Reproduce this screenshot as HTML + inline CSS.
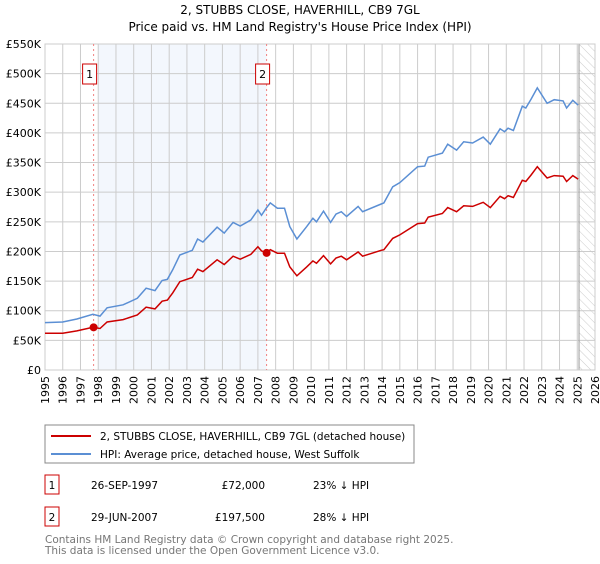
<!DOCTYPE html>
<html><head><meta charset="utf-8"><style>
body{margin:0;background:#fff;font-family:"DejaVu Sans","Liberation Sans",sans-serif;}
svg text{font-family:"DejaVu Sans","Liberation Sans",sans-serif;}
</style></head><body>
<svg id="chart" width="600" height="560" viewBox="0 0 600 560">
<defs><pattern id="hatch" width="6" height="6" patternUnits="userSpaceOnUse" patternTransform="rotate(-45)"><line x1="0" y1="0" x2="0" y2="6" stroke="#ccc" stroke-width="1"/></pattern></defs>
<text x="300" y="14" text-anchor="middle" font-size="12" fill="#000">2, STUBBS CLOSE, HAVERHILL, CB9 7GL</text>
<text x="300" y="31" text-anchor="middle" font-size="12" fill="#000">Price paid vs. HM Land Registry's House Price Index (HPI)</text>
<g id="grid"></g>
<g id="marks"></g>
<g id="xlabels"></g>
<g id="ylabels"></g>
<g>
<rect x="45" y="425" width="369" height="38" fill="#fff" stroke="#888"/>
<line x1="51" y1="436" x2="91" y2="436" stroke="#cc0000" stroke-width="2"/>
<text x="100" y="440" font-size="10.5">2, STUBBS CLOSE, HAVERHILL, CB9 7GL (detached house)</text>
<line x1="51" y1="454" x2="91" y2="454" stroke="#5b8fd4" stroke-width="2"/>
<text x="100" y="458" font-size="10.5">HPI: Average price, detached house, West Suffolk</text>
</g>
<g font-size="10.5">
<rect x="45" y="475" width="14" height="19" fill="#fff" stroke="#cc0000"/>
<text x="52" y="489" text-anchor="middle">1</text>
<text x="91" y="489">26-SEP-1997</text>
<text x="265" y="489" text-anchor="end">£72,000</text>
<text x="313" y="489">23% ↓ HPI</text>
<rect x="45" y="507" width="14" height="19" fill="#fff" stroke="#cc0000"/>
<text x="52" y="521" text-anchor="middle">2</text>
<text x="91" y="521">29-JUN-2007</text>
<text x="265" y="521" text-anchor="end">£197,500</text>
<text x="313" y="521">28% ↓ HPI</text>
</g>
<text x="45" y="543" font-size="10.5" fill="#777">Contains HM Land Registry data © Crown copyright and database right 2025.</text>
<text x="45" y="554" font-size="10.5" fill="#777">This data is licensed under the Open Government Licence v3.0.</text>
</svg>
<script>
const dates=[1995.0,1996.0,1996.8,1997.7,1998.1,1998.5,1999.4,2000.2,2000.7,2001.2,2001.6,2001.9,2002.2,2002.6,2003.3,2003.6,2003.9,2004.7,2005.1,2005.6,2006.0,2006.6,2007.0,2007.2,2007.49,2007.7,2008.1,2008.5,2008.8,2009.2,2009.75,2010.1,2010.3,2010.7,2011.1,2011.4,2011.7,2012.0,2012.65,2012.9,2013.95,2014.1,2014.6,2015.0,2016.0,2016.4,2016.6,2017.4,2017.7,2018.2,2018.6,2019.1,2019.7,2020.1,2020.65,2020.9,2021.1,2021.4,2021.9,2022.1,2022.4,2022.75,2023.3,2023.7,2024.2,2024.4,2024.75,2025.05];
const hpiValues=[80,81,86,94,91,105,110,121,138,134,151,153,169,194,202,221,216,241,231,249,243,253,270,261,274,282,273,273,242,221,242,256,250,268,249,263,267,259,276,267,280,282,309,316,343,344,359,366,381,371,385,383,393,381,407,402,408,404,445,442,457,476,450,456,454,442,455,447];
const propValues=[62,62,66,72,70,81,85,93,106,103,116,118,130,149,156,170,166,186,178,192,187,195,208,201,197.5,203,197,197,174,159,174,184,180,193,179,189,192,186,199,192,202,203,222,228,247,248,258,264,274,267,277,276,283,274,293,289,294,291,320,318,329,343,324,328,327,318,328,322];
const saleDates=[1997.74,2007.49];
const salePrices=[72,197.5];
const saleLabels=["1","2"];
const yTicks=[0,50,100,150,200,250,300,350,400,450,500,550];
const yTickLabels=["£0","£50K","£100K","£150K","£200K","£250K","£300K","£350K","£400K","£450K","£500K","£550K"];
const xYears=[1995,1996,1997,1998,1999,2000,2001,2002,2003,2004,2005,2006,2007,2008,2009,2010,2011,2012,2013,2014,2015,2016,2017,2018,2019,2020,2021,2022,2023,2024,2025,2026];
const L=45,R=595,T=44,B=370;
const x=v=>L+(v-1995)/(2026-1995)*(R-L);
const y=v=>B-v/550*(B-T);
const NS="http://www.w3.org/2000/svg";
function mk(p,tag,at){const e=document.createElementNS(NS,tag);for(const k in at)e.setAttribute(k,at[k]);p.appendChild(e);return e;}
const grid=document.getElementById('grid'),marks=document.getElementById('marks'),xl=document.getElementById('xlabels'),yl=document.getElementById('ylabels');
const shade=mk(grid,'rect',{x:x(1998),y:T,width:x(saleDates[1])-x(1998),height:B-T,fill:'#eef3fc',opacity:0.7});


const hat=mk(grid,'rect',{x:x(2025.1),y:T,width:R-x(2025.1),height:B-T,fill:'url(#hatch)'});


xYears.forEach(yr=>{const g=mk(grid,'line',{x1:x(yr),x2:x(yr),y1:T,y2:B,stroke:'#ccc','stroke-width':1});


const t=mk(xl,'text',{x:0,y:0,transform:`translate(${x(yr)+4},376) rotate(-90)`,'text-anchor':'end','font-size':11});
t.textContent=yr;

});
yTicks.forEach((v,i)=>{const g=mk(grid,'line',{x1:L,x2:R,y1:y(v),y2:y(v),stroke:'#ccc','stroke-width':1});


const t=mk(yl,'text',{x:L-4,y:y(v)+4,'text-anchor':'end','font-size':11});
t.textContent=yTickLabels[i];

});
const vl=mk(grid,'line',{x1:x(2025.1),x2:x(2025.1),y1:T,y2:B,stroke:'#999','stroke-width':1});


saleDates.forEach((d,i)=>{const l=mk(marks,'line',{x1:x(d),x2:x(d),y1:T,y2:B,stroke:'#f08080','stroke-dasharray':'2,3','stroke-width':1});

});
const pts=a=>a.map((v,i)=>x(dates[i]).toFixed(1)+','+y(v).toFixed(1)).join(' ');
const hl=mk(marks,'polyline',{points:pts(hpiValues),fill:'none',stroke:'#5b8fd4','stroke-width':1.5});


const pl=mk(marks,'polyline',{points:pts(propValues),fill:'none',stroke:'#cc0000','stroke-width':1.5});


saleDates.forEach((d,i)=>{const c=mk(marks,'circle',{cx:x(d),cy:y(salePrices[i]),r:4,fill:'#cc0000'});


const bx=mk(marks,'rect',{x:x(d)-11,y:64,width:14,height:20,fill:'#fff',stroke:'#cc0000'});


const t=mk(marks,'text',{x:x(d)-4,y:78,'text-anchor':'middle','font-size':11});
t.textContent=saleLabels[i];

});
const ax=mk(grid,'rect',{x:L,y:T,width:R-L,height:B-T,fill:'none',stroke:'#ccc'});


</script>
</body></html>
